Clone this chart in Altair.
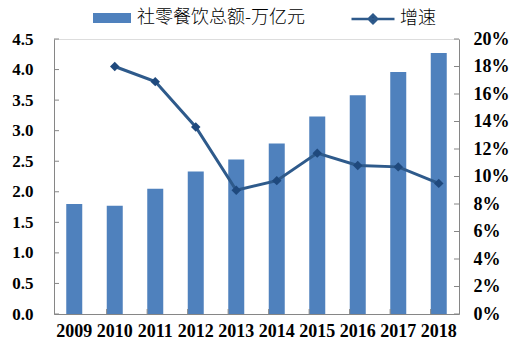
import altair as alt
import pandas as pd

years = ["2009", "2010", "2011", "2012", "2013", "2014", "2015", "2016", "2017", "2018"]
totals = [1.80, 1.77, 2.05, 2.33, 2.53, 2.79, 3.23, 3.58, 3.96, 4.27]
growth_years = ["2010", "2011", "2012", "2013", "2014", "2015", "2016", "2017", "2018"]
growth = [0.180, 0.169, 0.136, 0.090, 0.097, 0.117, 0.108, 0.107, 0.095]
left_ticks = [0.0, 0.5, 1.0, 1.5, 2.0, 2.5, 3.0, 3.5, 4.0, 4.5]
right_ticks = [0.0, 0.02, 0.04, 0.06, 0.08, 0.10, 0.12, 0.14, 0.16, 0.18, 0.20]
x_boundaries = ["2010", "2011", "2012", "2013", "2014", "2015", "2016", "2017", "2018"]

BAR_NAME = "社零餐饮总额-万亿元"
LINE_NAME = "增速"
BAR_COLOR = "#4F81BD"
LINE_COLOR = "#2E5A8B"
MARK_COLOR = "#1F497D"
AXIS_COLOR = "#868686"
W, H = 405, 275

bar_df = pd.DataFrame({"year": years, "value": totals, "series": BAR_NAME})
line_df = pd.DataFrame({"year": growth_years, "rate": growth, "series": LINE_NAME})
lt_df = pd.DataFrame({"v": left_ticks})
rt_df = pd.DataFrame({"v": right_ticks})
xb_df = pd.DataFrame({"year": x_boundaries})

xscale = alt.Scale(domain=years, paddingInner=0.6, paddingOuter=0.3)
x_axis = alt.Axis(
    title=None, labelAngle=0, ticks=False, domainColor=AXIS_COLOR, domainWidth=1,
    labelFont="Liberation Serif", labelFontSize=18, labelFontWeight="bold",
    labelColor="#000000", labelPadding=8, grid=False,
)
yl_axis = alt.Axis(
    title=None, orient="left", values=left_ticks, format=".1f", ticks=False,
    domainColor=AXIS_COLOR, labelFont="Liberation Serif", labelFontSize=17,
    labelFontWeight="bold", labelColor="#000000", labelPadding=21, grid=False)
yr_axis = alt.Axis(
    title=None, orient="right", values=right_ticks, format=".0%", ticks=False,
    domainColor=AXIS_COLOR, labelFont="Liberation Serif", labelFontSize=18,
    labelFontWeight="bold", labelColor="#000000", labelPadding=14, grid=False)
yl_scale = alt.Scale(domain=[0, 4.5], nice=False)
yr_scale = alt.Scale(domain=[0, 0.2], nice=False)

bars = alt.Chart(bar_df).mark_bar(size=16).encode(
    x=alt.X("year:N", scale=xscale, axis=x_axis, sort=years),
    y=alt.Y("value:Q", scale=yl_scale, axis=yl_axis),
    color=alt.Color("series:N", scale=alt.Scale(domain=[BAR_NAME], range=[BAR_COLOR]),
                    legend=alt.Legend(
                        title=None, orient="none", legendX=39, legendY=-40, padding=0,
                        symbolType="M-1,-0.26H1V0.26H-1Z", symbolSize=1444,
                        symbolStrokeWidth=0, labelFont="Noto Sans CJK SC",
                        labelFontSize=18, labelFontWeight=300, labelColor="#000000",
                        labelOffset=6, labelLimit=400)),
)

lticks = alt.Chart(lt_df).mark_rule(color=AXIS_COLOR, strokeWidth=1).encode(
    y=alt.Y("v:Q", scale=yl_scale, axis=yl_axis),
    x=alt.value(0), x2=alt.value(5),
)

xticks = alt.Chart(xb_df).mark_rule(color=AXIS_COLOR, strokeWidth=1).encode(
    x=alt.X("year:N", scale=xscale, bandPosition=0, axis=x_axis, sort=years),
    y=alt.value(H), y2=alt.value(H - 5),
)

left_layer = alt.layer(bars, lticks, xticks)

line = alt.Chart(line_df).mark_line(strokeWidth=3).encode(
    x=alt.X("year:N", scale=xscale, axis=x_axis, sort=years),
    y=alt.Y("rate:Q", scale=yr_scale, axis=yr_axis),
    stroke=alt.Stroke("series:N", scale=alt.Scale(domain=[LINE_NAME], range=[LINE_COLOR]),
                      legend=alt.Legend(
                          title=None, orient="none", legendX=296, legendY=-43, padding=0,
                          symbolType="M-1,0H1M-0.2,0L0,-0.2L0.2,0L0,0.2Z", symbolSize=1849,
                          symbolStrokeWidth=2.5, symbolFillColor=MARK_COLOR,
                          labelFont="Noto Sans CJK SC", labelFontSize=18,
                          labelFontWeight=300, labelColor="#000000", labelOffset=4,
                          labelLimit=200)),
)

points = alt.Chart(line_df).mark_point(shape="diamond", filled=True, size=90, opacity=1,
                                       color=MARK_COLOR).encode(
    x=alt.X("year:N", scale=xscale, axis=x_axis, sort=years),
    y=alt.Y("rate:Q", scale=yr_scale, axis=yr_axis),
)

rticks = alt.Chart(rt_df).mark_rule(color=AXIS_COLOR, strokeWidth=1).encode(
    y=alt.Y("v:Q", scale=yr_scale, axis=yr_axis),
    x=alt.value(W), x2=alt.value(W - 5),
)

right_layer = alt.layer(line, points, rticks)

chart = alt.layer(left_layer, right_layer).resolve_scale(
    y="independent", color="independent", stroke="independent"
).properties(
    width=W, height=H,
    autosize=alt.AutoSizeParams(type="none"),
    padding={"left": 54, "top": 39, "right": 66, "bottom": 39},
).configure_view(stroke=None).configure(background="#ffffff")

chart.save("out.html", embed_options={"renderer": "svg", "actions": False})
